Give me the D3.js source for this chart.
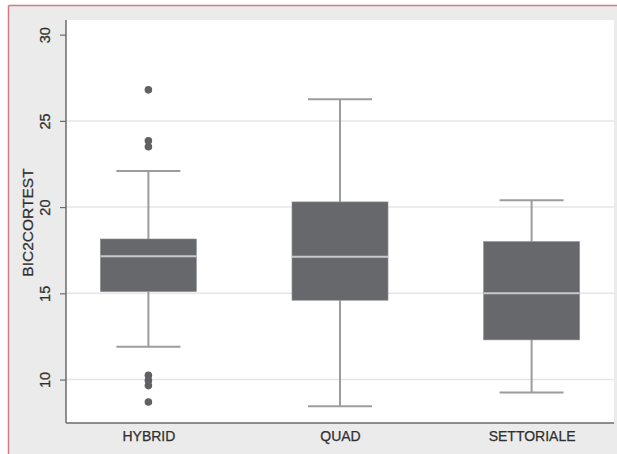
<!DOCTYPE html>
<html>
<head>
<meta charset="utf-8">
<script src="https://cdn.jsdelivr.net/npm/d3@7"></script>
<style>
html,body{margin:0;padding:0;background:#fff;}
svg{display:block;font-family:"Liberation Sans",Arial,sans-serif;}
</style>
</head>
<body>
<svg id="chart" width="617" height="454"></svg>
<script>
const categories = ["HYBRID", "QUAD", "SETTORIALE"];
const lowerWhisker = [11.9, 8.45, 9.25];
const q1 = [15.1, 14.6, 12.3];
const median = [17.15, 17.12, 15.0];
const q3 = [18.15, 20.3, 18.0];
const upperWhisker = [22.1, 26.25, 20.4];
const outliers = [
  [26.8, 23.85, 23.5, 10.25, 9.95, 9.65, 8.7],
  [],
  []
];
const yTicks = [10, 15, 20, 25, 30];
const gridTicks = [10, 15, 20, 25];
const yTitle = "BIC2CORTEST";

const svg = d3.select("#chart");
const W = 617, H = 454;
const plot = {left: 66, right: 614, top: 20, bottom: 423};
const textColor = "#2f2f2f";

// outer panel
svg.append("rect").attr("x", 8.5).attr("y", 5.5).attr("width", W - 8.5).attr("height", H - 5.5)
  .attr("fill", "#ebebeb");
svg.append("line").attr("x1", 8.5).attr("x2", W).attr("y1", 5.5).attr("y2", 5.5)
  .attr("stroke", "#d27a86").attr("stroke-width", 1.5);
svg.append("line").attr("x1", 8.5).attr("x2", 8.5).attr("y1", 5.5).attr("y2", H)
  .attr("stroke", "#d27a86").attr("stroke-width", 1.5);

// plot background
svg.append("rect").attr("x", plot.left).attr("y", plot.top)
  .attr("width", plot.right - plot.left).attr("height", plot.bottom - plot.top)
  .attr("fill", "#ffffff");

const y = d3.scaleLinear().domain([7.48, 30.85]).range([plot.bottom, plot.top]);
const x = d3.scalePoint().domain(categories).range([plot.left, plot.right]).padding(0.43);
const boxW = 96, capW = 64;

// gridlines
svg.append("g").selectAll("line").data(gridTicks).join("line")
  .attr("x1", plot.left).attr("x2", plot.right)
  .attr("y1", d => y(d)).attr("y2", d => y(d))
  .attr("stroke", "#e6e6e6").attr("stroke-width", 1.5);

const data = categories.map((c, i) => ({
  c, lw: lowerWhisker[i], q1: q1[i], med: median[i], q3: q3[i], uw: upperWhisker[i], out: outliers[i]
}));

const g = svg.append("g");
const wColor = "#9b9c9e";
// whiskers
g.selectAll(".wu").data(data).join("line")
  .attr("x1", d => x(d.c)).attr("x2", d => x(d.c))
  .attr("y1", d => y(d.q3)).attr("y2", d => y(d.uw))
  .attr("stroke", wColor).attr("stroke-width", 2);
g.selectAll(".wl").data(data).join("line")
  .attr("x1", d => x(d.c)).attr("x2", d => x(d.c))
  .attr("y1", d => y(d.q1)).attr("y2", d => y(d.lw))
  .attr("stroke", wColor).attr("stroke-width", 2);
g.selectAll(".cu").data(data).join("line")
  .attr("x1", d => x(d.c) - capW / 2).attr("x2", d => x(d.c) + capW / 2)
  .attr("y1", d => y(d.uw)).attr("y2", d => y(d.uw))
  .attr("stroke", wColor).attr("stroke-width", 2);
g.selectAll(".cl").data(data).join("line")
  .attr("x1", d => x(d.c) - capW / 2).attr("x2", d => x(d.c) + capW / 2)
  .attr("y1", d => y(d.lw)).attr("y2", d => y(d.lw))
  .attr("stroke", wColor).attr("stroke-width", 2);
// boxes
g.selectAll(".box").data(data).join("rect")
  .attr("x", d => x(d.c) - boxW / 2).attr("width", boxW)
  .attr("y", d => y(d.q3)).attr("height", d => y(d.q1) - y(d.q3))
  .attr("fill", "#67686b").attr("stroke", "#8a8b8d").attr("stroke-width", 0.6);
// medians
g.selectAll(".med").data(data).join("line")
  .attr("x1", d => x(d.c) - boxW / 2).attr("x2", d => x(d.c) + boxW / 2)
  .attr("y1", d => y(d.med)).attr("y2", d => y(d.med))
  .attr("stroke", "#c9c9ca").attr("stroke-width", 2);
// outliers
data.forEach(d => {
  g.selectAll(null).data(d.out).join("circle")
    .attr("cx", x(d.c)).attr("cy", v => y(v)).attr("r", 3.8)
    .attr("fill", "#606164");
});

// axes
const axisColor = "#6b6b6b";
const yAxis = svg.append("g").attr("transform", `translate(${plot.left},0)`)
  .call(d3.axisLeft(y).tickValues(yTicks).tickSize(6).tickSizeOuter(0).tickFormat(d3.format("d")));
yAxis.select(".domain").remove();
yAxis.selectAll(".tick line").attr("stroke", axisColor).attr("stroke-width", 1.2);
yAxis.selectAll(".tick text").attr("transform", "rotate(-90)")
  .attr("x", 0).attr("y", -21).attr("dy", "0.35em").attr("text-anchor", "middle")
  .attr("fill", textColor).style("font-size", "14.5px")
  .attr("stroke", textColor).attr("stroke-width", 0.25);
svg.append("line").attr("x1", plot.left).attr("x2", plot.left)
  .attr("y1", plot.top).attr("y2", plot.bottom)
  .attr("stroke", axisColor).attr("stroke-width", 1.5);
svg.append("line").attr("x1", plot.left).attr("x2", plot.right)
  .attr("y1", plot.bottom).attr("y2", plot.bottom)
  .attr("stroke", axisColor).attr("stroke-width", 1.5);

const xAxis = svg.append("g").attr("transform", `translate(0,${plot.bottom})`)
  .call(d3.axisBottom(x).tickSize(0).tickPadding(8));
xAxis.select(".domain").remove();
xAxis.selectAll(".tick text").attr("fill", textColor).style("font-size", "14px")
  .attr("stroke", textColor).attr("stroke-width", 0.25);

svg.append("text").attr("transform", `translate(28,${(plot.top + plot.bottom) / 2 + 1}) rotate(-90)`)
  .attr("text-anchor", "middle").attr("dy", "0.35em")
  .attr("fill", textColor).attr("stroke", textColor).attr("stroke-width", 0.25)
  .style("font-size", "15.5px").text(yTitle);
</script>
</body>
</html>
